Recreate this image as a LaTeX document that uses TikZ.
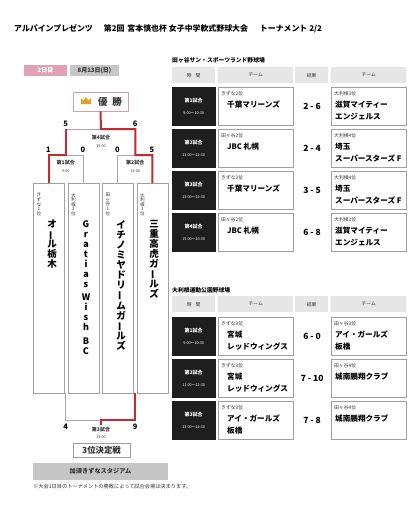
\documentclass[tikz,border=0pt]{standalone}
\usepackage{fontspec}
\usepackage{graphicx}
\setmainfont{Noto Sans CJK JP}
\definecolor{rred}{HTML}{C8282E}
\definecolor{lgray}{HTML}{A8A8A8}
\definecolor{bgray}{HTML}{A0A0A0}
\definecolor{tpink}{HTML}{DFA3B4}
\definecolor{tgray}{HTML}{C6C6C6}
\definecolor{hgray}{HTML}{E6E6E6}
\definecolor{blk}{HTML}{1E1E1E}
\definecolor{dtext}{HTML}{333333}
\definecolor{crown}{HTML}{D9A521}
\definecolor{wborder}{HTML}{CDA2AD}
\newcommand\fs[2]{\fontsize{#1}{#2}\selectfont}
\newcommand\vb{\rotatebox[origin=c]{90}{ー}}
\newcommand\mrow[9]{%
  \node[timebox] (#1t) at (172,#2) {};
  \node[timetxt] at (#1t.center) {{\bfseries\fs{5}{6.5}#3}\\{\fs{3.8}{5}#4}};
  \node[tmbox] (#1l) at (218,#2) {};
  \node[hlab] at ([shift={(3,4)}]#1l.north west) {#5};
  \node[tname] at ([shift={(9,14)}]#1l.north west) {#6};
  \node[score] (#1s) at ([shift={(18.5,0)}]#1l.east) {#7};
  \node[tmbox] (#1r) at (331,#2) {};
  \node[hlab] at ([shift={(3,4)}]#1r.north west) {#8};
  \node[tname] at ([shift={(4,14)}]#1r.north west) {#9};
}
\newcommand\hdrrow[2]{%
  \node[hdr, minimum width=43pt] (#1a) at (172,#2) {時\hspace{4pt}間};
  \node[hdr, minimum width=75pt] (#1b) at (218,#2) {チーム};
  \node[hdr, minimum width=33pt] (#1c) at (295,#2) {結果};
  \node[hdr, minimum width=75pt] (#1d) at (331,#2) {チーム};
}
\begin{document}
\begin{tikzpicture}[x=1pt,y=-1pt,
  gline/.style={draw=lgray, line width=0.7pt},
  rline/.style={draw=rred, line width=2pt},
  teamv/.style={draw=bgray, line width=0.6pt, fill=white, minimum width=31pt, minimum height=210pt, anchor=north west, inner sep=0},
  vname/.style={font=\bfseries\fs{9.5}{10}, align=center, inner sep=0, anchor=north, text=black},
  vlab/.style={font=\fs{4.6}{4.6}, align=center, inner sep=0, anchor=north, text=dtext},
  gtxt/.style={font=\bfseries\fs{5}{6}, inner sep=0, text=dtext},
  ttxt/.style={font=\fs{3.8}{5}, inner sep=0, text=dtext},
  sc/.style={font=\bfseries\fs{7.5}{8}, inner sep=0, text=black},
  timebox/.style={fill=blk, draw=blk, minimum width=43pt, minimum height=38pt, anchor=north west, inner sep=0},
  timetxt/.style={text=white, align=center, inner sep=0},
  tmbox/.style={draw=bgray, line width=0.6pt, fill=white, minimum width=75pt, minimum height=38pt, anchor=north west, inner sep=0},
  hlab/.style={font=\fs{4.8}{5}, text=dtext, anchor=north west, inner sep=0},
  tname/.style={font=\bfseries\fs{7.6}{12}, align=left, anchor=north west, inner sep=0, text=black},
  score/.style={font=\bfseries\fs{8.5}{9}, inner sep=0, text=black},
  hdr/.style={fill=hgray, minimum height=16pt, anchor=north west, inner sep=0, font=\fs{4.8}{5}, text=dtext},
  venue/.style={font=\bfseries\fs{5.8}{6}, anchor=west, inner sep=0, text=black}
]
\useasboundingbox[fill=white] (0,0) rectangle (416,507);

% title
\node[anchor=west, inner sep=0, font=\bfseries\fs{7.9}{10}] (title) at (14,29)
  {アルパインプレゼンツ\hspace{11pt}第2回\hspace{3pt}宮本慎也杯\hspace{2pt}女子中学軟式野球大会\hspace{12pt}トーナメント\hspace{2pt}2/2};

% tabs
\node[fill=tpink, minimum width=43pt, minimum height=11pt, inner sep=0, text=white, font=\bfseries\fs{6}{6}] (day) at (45.5,70.5) {2日目};
\node[fill=tgray, minimum width=49pt, minimum height=11pt, inner sep=0, text=dtext, font=\bfseries\fs{6}{6}] (date) at (94.5,70.5) {8月13日(日)};

% winner box
\node[draw=wborder, line width=0.8pt, fill=white, minimum width=55pt, minimum height=19pt, inner sep=0] (win) at (100.5,101.5) {};
\fill[crown] (81,104) -- (81,98) -- (83.5,100.8) -- (86,97) -- (88.5,100.8) -- (91,98) -- (91,104) -- cycle;
\node[inner sep=0, font=\bfseries\fs{9.5}{10}, text=dtext] (wintxt) at (110,101.5) {優\hspace{5pt}勝};

% team boxes
\node[teamv] (t1) at (33,183) {};
\node[teamv] (t2) at (67.5,183) {};
\node[teamv] (t3) at (102,183) {};
\node[teamv] (t4) at (136.5,183) {};

\node[vlab] at (39,193) {き\\ず\\な\\1\\位};
\node[vlab] at (73.5,193) {大\\利\\根\\2\\位};
\node[vlab] at (108,193) {田\\ヶ\\谷\\1\\位};
\node[vlab] at (142.5,193) {大\\利\\根\\1\\位};

\node[vname] (n1) at (52,220) {オ\\\vb\\ル\\栃\\木};
\node[vname, font=\bfseries\fs{9}{10}] (n2) at (86,220) {G\\r\\a\\t\\i\\a\\s\\[3.5pt]W\\i\\s\\h\\[3.5pt]B\\C};
\node[vname] (n3) at (121,220) {イ\\チ\\ノ\\ミ\\ヤ\\ド\\リ\\\vb\\ム\\ガ\\\vb\\ル\\ズ};
\node[vname] (n4) at (154,220) {三\\重\\高\\虎\\ガ\\\vb\\ル\\ズ};

% bracket junctions
\coordinate (f) at (101,129);
\coordinate (s1) at (65.75,155);
\coordinate (s2) at (135.25,155);
\coordinate (b1) at (65.75,393);
\coordinate (b2) at (135.25,393);
\coordinate (th) at (101,420);
\coordinate (thd) at (101,425);

% gray lines
\draw[gline] (s1 |- f) -- (f);
\draw[gline] (t2.north) |- (s1);
\draw[gline] (t3.north) |- (s2);
\draw[gline] (b1) |- (th);
% red lines
\draw[rline] (win.south) -- (f) -| (s2) -| (t4.north);
\draw[rline] (t1.north) |- (s1) -- (s1 |- f);
\draw[rline] (b2) |- (th) -- (thd);

% bracket labels
\node[sc] at (65.75,124) {5};
\node[sc] at (135.25,124) {6};
\node[sc] at (48.5,150) {1};
\node[sc] at (83,150) {0};
\node[sc] at (117.5,150) {0};
\node[sc] at (152,150) {5};
\node[gtxt] at (101,138) {第4試合};
\node[ttxt] at (101,146) {15:00};
\node[gtxt] at (65.75,163) {第1試合};
\node[ttxt] at (65.75,171) {9:00};
\node[gtxt] at (135.25,163) {第2試合};
\node[ttxt] at (135.25,171) {11:00};
\node[sc] at (65.75,427) {4};
\node[sc] at (135.25,427) {9};
\node[gtxt] at (101,429.5) {第3試合};
\node[ttxt] at (101,437) {13:00};

% third place
\node[draw=bgray, line width=0.6pt, fill=white, minimum width=57pt, minimum height=14pt, inner sep=0, font=\bfseries\fs{8.4}{9}, text=dtext] (third) at (101.5,450) {3位決定戦};
\node[fill=tgray, minimum width=135pt, minimum height=17pt, inner sep=0, font=\bfseries\fs{6.2}{7}, text=dtext] (stadium) at (100.5,471.5) {加須きずなスタジアム};
\node[anchor=west, inner sep=0, font=\fs{5.2}{6}, text=dtext] (note) at (33,487) {※大会1日目のトーナメントの勝敗によって試合会場は決まります。};

% section 1
\node[venue] (v1) at (172,60) {田ヶ谷サン・スポーツランド野球場};
\hdrrow{h1}{67}
\mrow{a1}{87}{第1試合}{9:00〜10:30}{きずな2位}{千葉マリーンズ}{2 - 6}{大利根3位}{滋賀マイティー\\エンジェルス}
\mrow{a2}{129}{第2試合}{11:00〜12:30}{田ヶ谷2位}{JBC 札幌}{2 - 4}{大利根4位}{埼玉\\スーパースターズ F}
\mrow{a3}{171}{第3試合}{13:00〜14:30}{きずな2位}{千葉マリーンズ}{3 - 5}{大利根4位}{埼玉\\スーパースターズ F}
\mrow{a4}{213}{第4試合}{15:00〜16:30}{田ヶ谷2位}{JBC 札幌}{6 - 8}{大利根3位}{滋賀マイティー\\エンジェルス}

% section 2
\node[venue] (v2) at (172,290) {大利根運動公園野球場};
\hdrrow{h2}{296}
\mrow{b1r}{317}{第1試合}{9:00〜10:30}{きずな3位}{宮城\\レッドウィングス}{6 - 0}{田ヶ谷3位}{アイ・ガールズ\\板橋}
\mrow{b2r}{359}{第2試合}{11:00〜12:30}{きずな3位}{宮城\\レッドウィングス}{7 - 10}{田ヶ谷4位}{城南鵬翔クラブ}
\mrow{b3r}{401}{第3試合}{13:00〜14:30}{きずな3位}{アイ・ガールズ\\板橋}{7 - 8}{田ヶ谷4位}{城南鵬翔クラブ}
\end{tikzpicture}
\end{document}
